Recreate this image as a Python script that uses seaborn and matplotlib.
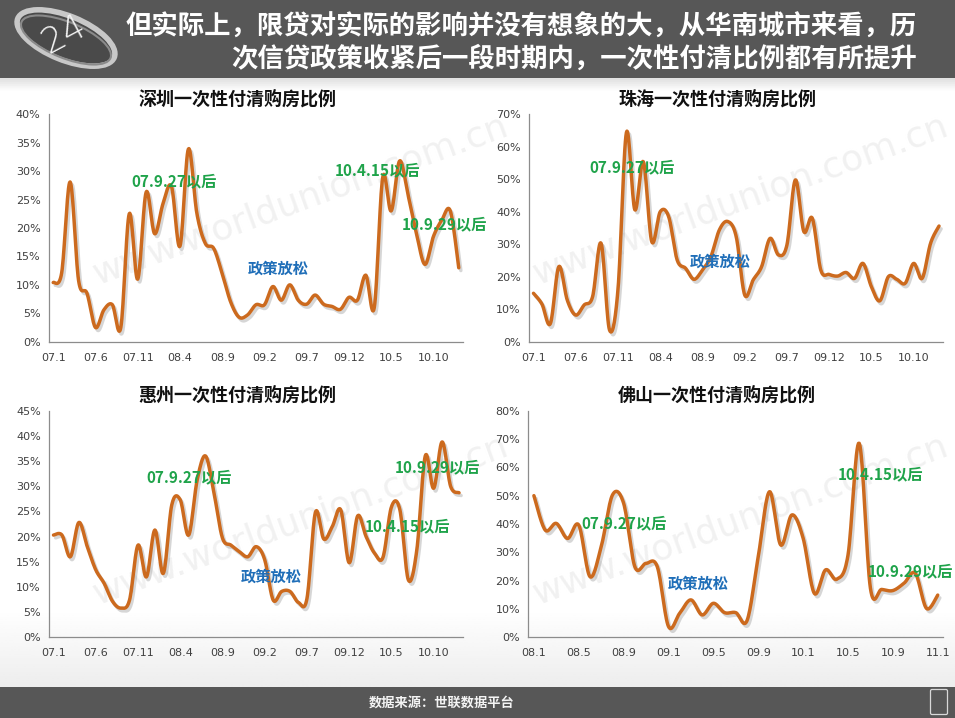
import numpy as np
import pandas as pd
import matplotlib
matplotlib.use("Agg")
import matplotlib.pyplot as plt
import matplotlib.patheffects as pe
from matplotlib.patches import Rectangle, Ellipse, FancyBboxPatch
import seaborn as sns

sns.set_style("white")
plt.rcParams['font.family'] = ['DejaVu Sans', 'Noto Sans CJK SC']
plt.rcParams['axes.unicode_minus'] = False

CJK = ['Noto Sans CJK SC', 'DejaVu Sans']

# ------------------------------------------------------------
# data (% of one-off full payment home purchases, monthly)
# ------------------------------------------------------------
sz_ticks = ['07.1', '07.6', '07.11', '08.4', '08.9', '09.2', '09.7', '09.12', '10.5', '10.10']
fs_ticks = ['08.1', '08.5', '08.9', '09.1', '09.5', '09.9', '10.1', '10.5', '10.9', '11.1']

shenzhen = [10.4, 12.1, 28.1, 10.8, 8.5, 2.5, 5.6, 6.5, 2.5, 22.5,
            11.0, 26.3, 19.0, 24.3, 27.3, 16.8, 33.9, 22.6, 17.3, 16.4,
            12.0, 7.0, 4.3, 4.7, 6.5, 6.5, 9.7, 7.3, 10.0, 7.3,
            6.6, 8.2, 6.6, 6.2, 5.7, 7.8, 7.3, 11.7, 6.0, 28.9,
            23.0, 31.8, 25.8, 19.0, 13.6, 18.5, 21.4, 23.0, 13.0]

zhuhai = [14.9, 11.6, 5.6, 23.1, 12.8, 8.2, 11.3, 13.9, 30.3, 3.6,
          16.0, 64.4, 40.6, 55.4, 30.8, 40.0, 38.5, 25.2, 22.6, 19.2,
          22.1, 26.2, 34.4, 37.0, 32.3, 14.4, 19.0, 23.1, 31.8, 26.7,
          29.8, 49.8, 33.9, 38.0, 22.1, 20.7, 20.2, 21.3, 19.5, 24.1,
          16.9, 12.6, 20.0, 19.2, 18.0, 24.1, 19.5, 30.3, 35.6]

huizhou = [20.3, 20.3, 16.0, 22.8, 18.0, 13.4, 10.7, 7.1, 5.8, 7.4,
           18.3, 12.0, 21.3, 12.7, 26.3, 27.3, 20.3, 31.2, 36.0, 28.6,
           19.7, 18.3, 17.0, 16.0, 18.0, 15.4, 7.4, 9.1, 9.1, 6.9,
           7.7, 24.8, 19.5, 22.0, 25.3, 14.8, 24.1, 20.0, 16.7, 15.9,
           25.9, 25.3, 11.4, 17.3, 36.0, 29.6, 38.8, 30.0, 28.7]

foshan = [50.0, 37.9, 40.2, 34.9, 39.6, 21.4, 32.0, 50.2, 47.3, 24.9,
          26.1, 24.9, 3.8, 8.5, 13.2, 7.9, 12.0, 8.7, 8.7, 5.9,
          28.5, 51.4, 32.6, 43.2, 35.0, 15.5, 23.8, 20.5, 29.0, 68.5,
          17.3, 16.9, 16.5, 19.1, 22.6, 10.2, 14.9]

LINE = '#CC6A1E'
GREEN = '#1FA34A'
BLUE = '#1F6EB8'


def smooth(vals, n=16):
    """Catmull-Rom curve through the points (like Excel smoothed line)"""
    y = np.asarray(vals, dtype=float)
    x = np.arange(len(y), dtype=float)
    P = np.column_stack([x, y])
    P = np.vstack([P[0], P, P[-1]])
    out = []
    t = np.linspace(0, 1, n, endpoint=False)[:, None]
    for i in range(1, len(P) - 2):
        p0, p1, p2, p3 = P[i - 1], P[i], P[i + 1], P[i + 2]
        seg = 0.5 * (2 * p1 + (-p0 + p2) * t + (2 * p0 - 5 * p1 + 4 * p2 - p3) * t ** 2
                     + (-p0 + 3 * p1 - 3 * p2 + p3) * t ** 3)
        out.append(seg)
    out.append(P[-2][None, :])
    out = np.vstack(out)
    return pd.DataFrame({'x': out[:, 0], 'y': out[:, 1]})


def draw_panel(rect, title, vals, ymax, ystep, ticks, tstep, notes):
    ax = fig.add_axes(rect)
    ax.set_facecolor('none')
    df = smooth(vals)
    sns.lineplot(data=df, x='x', y='y', ax=ax, color=LINE, lw=2.5, sort=False)
    ax.lines[0].set_path_effects([
        pe.SimpleLineShadow(offset=(1.5, -2), shadow_color='#7a7a7a', alpha=0.3),
        pe.Normal()])
    n = len(vals)
    ax.set_xlim(-0.5, n - 0.5)
    ax.set_ylim(0, ymax)
    ax.set_xlabel('')
    ax.set_ylabel('')
    yt = list(range(0, ymax + 1, ystep))
    ax.set_yticks(yt)
    ax.set_yticklabels([f'{v}%' for v in yt], fontsize=8, color='#404040')
    ax.set_xticks(list(range(0, n, tstep)))
    ax.set_xticklabels(ticks, fontsize=8, color='#404040')
    ax.set_xticks(np.arange(-0.5, n, 1.0), minor=True)
    ax.tick_params(axis='x', which='major', length=0, pad=8)
    ax.tick_params(axis='x', which='minor', length=4, color='#8c8c8c', width=0.8, direction='out')
    ax.tick_params(axis='y', length=4, color='#8c8c8c', width=0.8, direction='out', pad=2)
    for s in ['top', 'right']:
        ax.spines[s].set_visible(False)
    for s in ['left', 'bottom']:
        ax.spines[s].set_color('#8c8c8c')
        ax.spines[s].set_linewidth(0.9)
    ax.grid(False)
    ax.text(0.455, 1.068, title, transform=ax.transAxes, ha='center', va='center',
            fontsize=13, fontweight='bold', color='#111111', family=CJK)
    for txt, fx, fy, col in notes:
        ax.text(fx, fy, txt, transform=ax.transAxes, ha='left', va='center',
                fontsize=11, fontweight='bold', color=col, family=CJK, clip_on=False)
    return ax


fig = plt.figure(figsize=(9.55, 7.18), dpi=100)
fig.patch.set_facecolor('white')

# background: header, footer, gradient, watermark
bg = fig.add_axes([0, 0, 1, 1], zorder=-10)
bg.set_xlim(0, 955)
bg.set_ylim(718, 0)
bg.axis('off')
grad = np.ones((300, 2))
yy = np.linspace(78, 687, 300)
grad[:, 0] = np.where(yy < 90, 0.88 + 0.12 * (yy - 78) / 12, 1.0)
grad[:, 0] = np.where(yy > 610, 1.0 - 0.07 * (yy - 610) / 77, grad[:, 0])
grad[:, 1] = grad[:, 0]
bg.imshow(grad, cmap='gray', vmin=0, vmax=1, extent=[0, 955, 687, 78], aspect='auto', zorder=0)
for wx, wy in [(300, 200), (740, 200), (300, 520), (740, 520)]:
    bg.text(wx, wy, 'www.worldunion.com.cn', fontsize=26, color='#f1f1f1', rotation=20,
            ha='center', va='center', zorder=0.5)
bg.add_patch(Rectangle((0, 0), 955, 78, facecolor='#575757', edgecolor='none', zorder=2))
bg.add_patch(Rectangle((0, 687), 955, 31, facecolor='#575757', edgecolor='none', zorder=2))
bg.add_patch(Ellipse((66, 38), 104, 44, angle=22, facecolor='#4a4a4a', edgecolor='#c8c8c8',
                     lw=4, zorder=3))
bg.add_patch(Ellipse((66, 40), 96, 36, angle=22, facecolor='none', edgecolor='#8a8a8a',
                     lw=1.5, zorder=3))
bg.text(64, 34, '24', fontsize=26, color='#f2f2f2', rotation=28, ha='center', va='center',
        family='DejaVu Sans', fontweight='light', zorder=4)
bg.text(917, 27, '但实际上，限贷对实际的影响并没有想象的大，从华南城市来看，历', fontsize=19,
        color='white', ha='right', va='center', fontweight='bold', family=CJK, zorder=4)
bg.text(917, 59, '次信贷政策收紧后一段时期内，一次性付清比例都有所提升', fontsize=19,
        color='white', ha='right', va='center', fontweight='bold', family=CJK, zorder=4)
bg.text(442, 703, '数据来源：世联数据平台', fontsize=9.5, color='#f4f4f4', ha='center', va='center',
        family=CJK, fontweight='bold', zorder=4)
bg.add_patch(FancyBboxPatch((932, 691), 14, 22, boxstyle='round,pad=1.5', facecolor='none',
                            edgecolor='#d8d8d8', lw=0.9, zorder=4))

draw_panel([0.0513, 0.5241, 0.4335, 0.3167], '深圳一次性付清购房比例', shenzhen, 40, 5, sz_ticks, 5,
           [('07.9.27以后', 0.20, 0.704, GREEN), ('10.4.15以后', 0.691, 0.752, GREEN),
            ('10.9.29以后', 0.852, 0.518, GREEN), ('政策放松', 0.481, 0.323, BLUE)])
draw_panel([0.5542, 0.5241, 0.4335, 0.3167], '珠海一次性付清购房比例', zhuhai, 70, 10, sz_ticks, 5,
           [('07.9.27以后', 0.145, 0.767, GREEN), ('政策放松', 0.388, 0.352, BLUE)])
draw_panel([0.0516, 0.1124, 0.4335, 0.3156], '惠州一次性付清购房比例', huizhou, 45, 5, sz_ticks, 5,
           [('07.9.27以后', 0.235, 0.704, GREEN), ('10.9.29以后', 0.835, 0.750, GREEN),
            ('10.4.15以后', 0.763, 0.488, GREEN), ('政策放松', 0.462, 0.267, BLUE)])
draw_panel([0.5532, 0.1124, 0.4346, 0.3156], '佛山一次性付清购房比例', foshan, 80, 10, fs_ticks, 4,
           [('07.9.27以后', 0.129, 0.503, GREEN), ('政策放松', 0.337, 0.238, BLUE),
            ('10.4.15以后', 0.746, 0.719, GREEN), ('10.9.29以后', 0.819, 0.290, GREEN)])

fig.savefig('out.png', dpi=100)
